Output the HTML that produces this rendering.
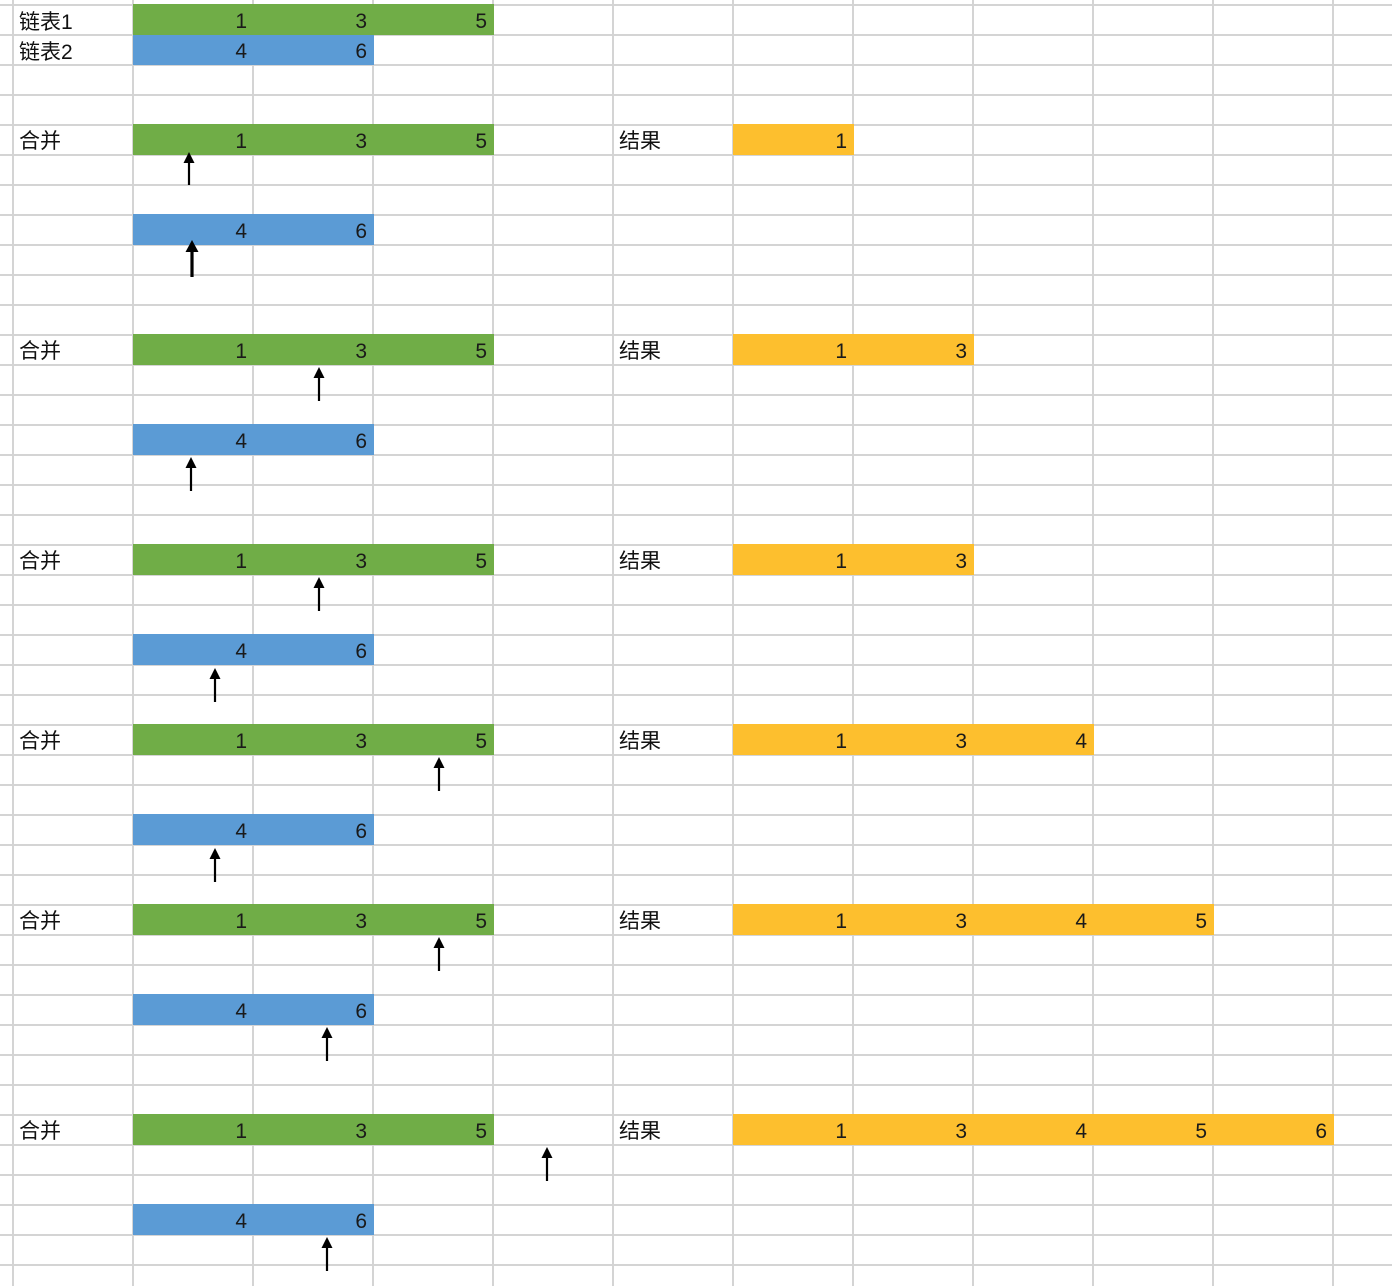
<!DOCTYPE html>
<html>
<head>
<meta charset="utf-8">
<style>
html,body{margin:0;padding:0;background:#fff;}
svg{display:block;}
.n{font-family:"Liberation Sans","Noto Sans CJK SC",sans-serif;font-size:21px;fill:#1a1a1a;text-anchor:end;}
.l{font-family:"Liberation Sans","Noto Sans CJK SC",sans-serif;font-size:21px;fill:#111;}
</style>
</head>
<body>
<svg width="1392" height="1286" viewBox="0 0 1392 1286" xmlns="http://www.w3.org/2000/svg">
<rect x="0" y="0" width="1392" height="1286" fill="#fff"/>
<g stroke="#d4d4d4" stroke-width="2">
<line x1="13" y1="0" x2="13" y2="1286"/>
<line x1="133" y1="0" x2="133" y2="1286"/>
<line x1="253" y1="0" x2="253" y2="1286"/>
<line x1="373" y1="0" x2="373" y2="1286"/>
<line x1="493" y1="0" x2="493" y2="1286"/>
<line x1="613" y1="0" x2="613" y2="1286"/>
<line x1="733" y1="0" x2="733" y2="1286"/>
<line x1="853" y1="0" x2="853" y2="1286"/>
<line x1="973" y1="0" x2="973" y2="1286"/>
<line x1="1093" y1="0" x2="1093" y2="1286"/>
<line x1="1213" y1="0" x2="1213" y2="1286"/>
<line x1="1333" y1="0" x2="1333" y2="1286"/>
<line x1="0" y1="5" x2="1392" y2="5"/>
<line x1="0" y1="35" x2="1392" y2="35"/>
<line x1="0" y1="65" x2="1392" y2="65"/>
<line x1="0" y1="95" x2="1392" y2="95"/>
<line x1="0" y1="125" x2="1392" y2="125"/>
<line x1="0" y1="155" x2="1392" y2="155"/>
<line x1="0" y1="185" x2="1392" y2="185"/>
<line x1="0" y1="215" x2="1392" y2="215"/>
<line x1="0" y1="245" x2="1392" y2="245"/>
<line x1="0" y1="275" x2="1392" y2="275"/>
<line x1="0" y1="305" x2="1392" y2="305"/>
<line x1="0" y1="335" x2="1392" y2="335"/>
<line x1="0" y1="365" x2="1392" y2="365"/>
<line x1="0" y1="395" x2="1392" y2="395"/>
<line x1="0" y1="425" x2="1392" y2="425"/>
<line x1="0" y1="455" x2="1392" y2="455"/>
<line x1="0" y1="485" x2="1392" y2="485"/>
<line x1="0" y1="515" x2="1392" y2="515"/>
<line x1="0" y1="545" x2="1392" y2="545"/>
<line x1="0" y1="575" x2="1392" y2="575"/>
<line x1="0" y1="605" x2="1392" y2="605"/>
<line x1="0" y1="635" x2="1392" y2="635"/>
<line x1="0" y1="665" x2="1392" y2="665"/>
<line x1="0" y1="695" x2="1392" y2="695"/>
<line x1="0" y1="725" x2="1392" y2="725"/>
<line x1="0" y1="755" x2="1392" y2="755"/>
<line x1="0" y1="785" x2="1392" y2="785"/>
<line x1="0" y1="815" x2="1392" y2="815"/>
<line x1="0" y1="845" x2="1392" y2="845"/>
<line x1="0" y1="875" x2="1392" y2="875"/>
<line x1="0" y1="905" x2="1392" y2="905"/>
<line x1="0" y1="935" x2="1392" y2="935"/>
<line x1="0" y1="965" x2="1392" y2="965"/>
<line x1="0" y1="995" x2="1392" y2="995"/>
<line x1="0" y1="1025" x2="1392" y2="1025"/>
<line x1="0" y1="1055" x2="1392" y2="1055"/>
<line x1="0" y1="1085" x2="1392" y2="1085"/>
<line x1="0" y1="1115" x2="1392" y2="1115"/>
<line x1="0" y1="1145" x2="1392" y2="1145"/>
<line x1="0" y1="1175" x2="1392" y2="1175"/>
<line x1="0" y1="1205" x2="1392" y2="1205"/>
<line x1="0" y1="1235" x2="1392" y2="1235"/>
<line x1="0" y1="1265" x2="1392" y2="1265"/>
</g>

<g fill="#70ad47">
<rect x="133" y="4" width="361" height="31"/>
<rect x="133" y="124" width="361" height="31"/>
<rect x="133" y="334" width="361" height="31"/>
<rect x="133" y="544" width="361" height="31"/>
<rect x="133" y="724" width="361" height="31"/>
<rect x="133" y="904" width="361" height="31"/>
<rect x="133" y="1114" width="361" height="31"/>
</g>
<g fill="#5b9bd5">
<rect x="133" y="35" width="241" height="30"/>
<rect x="133" y="214" width="241" height="31"/>
<rect x="133" y="424" width="241" height="31"/>
<rect x="133" y="634" width="241" height="31"/>
<rect x="133" y="814" width="241" height="31"/>
<rect x="133" y="994" width="241" height="31"/>
<rect x="133" y="1204" width="241" height="31"/>
</g>
<g fill="#fdbf2e">
<rect x="733" y="124" width="121" height="31"/>
<rect x="733" y="334" width="241" height="31"/>
<rect x="733" y="544" width="241" height="31"/>
<rect x="733" y="724" width="361" height="31"/>
<rect x="733" y="904" width="481" height="31"/>
<rect x="733" y="1114" width="601" height="31"/>
</g>

<g class="l">
<text x="19" y="29">链表1</text>
<text x="19" y="59">链表2</text>
<text x="19" y="148">合并</text>
<text x="19" y="358">合并</text>
<text x="19" y="568">合并</text>
<text x="19" y="748">合并</text>
<text x="19" y="928">合并</text>
<text x="19" y="1138">合并</text>
<text x="619" y="148">结果</text>
<text x="619" y="358">结果</text>
<text x="619" y="568">结果</text>
<text x="619" y="748">结果</text>
<text x="619" y="928">结果</text>
<text x="619" y="1138">结果</text>
</g>

<g class="n">
<text x="247" y="28">1</text><text x="367" y="28">3</text><text x="487" y="28">5</text>
<text x="247" y="58">4</text><text x="367" y="58">6</text>

<text x="247" y="148">1</text><text x="367" y="148">3</text><text x="487" y="148">5</text>
<text x="247" y="238">4</text><text x="367" y="238">6</text>
<text x="847" y="148">1</text>

<text x="247" y="358">1</text><text x="367" y="358">3</text><text x="487" y="358">5</text>
<text x="247" y="448">4</text><text x="367" y="448">6</text>
<text x="847" y="358">1</text><text x="967" y="358">3</text>

<text x="247" y="568">1</text><text x="367" y="568">3</text><text x="487" y="568">5</text>
<text x="247" y="658">4</text><text x="367" y="658">6</text>
<text x="847" y="568">1</text><text x="967" y="568">3</text>

<text x="247" y="748">1</text><text x="367" y="748">3</text><text x="487" y="748">5</text>
<text x="247" y="838">4</text><text x="367" y="838">6</text>
<text x="847" y="748">1</text><text x="967" y="748">3</text><text x="1087" y="748">4</text>

<text x="247" y="928">1</text><text x="367" y="928">3</text><text x="487" y="928">5</text>
<text x="247" y="1018">4</text><text x="367" y="1018">6</text>
<text x="847" y="928">1</text><text x="967" y="928">3</text><text x="1087" y="928">4</text><text x="1207" y="928">5</text>

<text x="247" y="1138">1</text><text x="367" y="1138">3</text><text x="487" y="1138">5</text>
<text x="247" y="1228">4</text><text x="367" y="1228">6</text>
<text x="847" y="1138">1</text><text x="967" y="1138">3</text><text x="1087" y="1138">4</text><text x="1207" y="1138">5</text><text x="1327" y="1138">6</text>
</g>

<g stroke="#000" stroke-width="2.2">
<line x1="189" y1="160" x2="189" y2="185"/>
<line x1="192" y1="248" x2="192" y2="277" stroke-width="3.2"/>
<line x1="319" y1="375" x2="319" y2="401"/>
<line x1="191" y1="465" x2="191" y2="491"/>
<line x1="319" y1="585" x2="319" y2="611"/>
<line x1="215" y1="676" x2="215" y2="702"/>
<line x1="439" y1="765" x2="439" y2="791"/>
<line x1="215" y1="856" x2="215" y2="882"/>
<line x1="439" y1="945" x2="439" y2="971"/>
<line x1="327" y1="1035" x2="327" y2="1061"/>
<line x1="547" y1="1155" x2="547" y2="1181"/>
<line x1="327" y1="1245" x2="327" y2="1271"/>
</g>
<g fill="#000">
<polygon points="189,152 183.5,163 194.5,163"/>
<polygon points="192,240 185.5,252 198.5,252"/>
<polygon points="319,367 313.5,378 324.5,378"/>
<polygon points="191,457 185.5,468 196.5,468"/>
<polygon points="319,577 313.5,588 324.5,588"/>
<polygon points="215,668 209.5,679 220.5,679"/>
<polygon points="439,757 433.5,768 444.5,768"/>
<polygon points="215,848 209.5,859 220.5,859"/>
<polygon points="439,937 433.5,948 444.5,948"/>
<polygon points="327,1027 321.5,1038 332.5,1038"/>
<polygon points="547,1147 541.5,1158 552.5,1158"/>
<polygon points="327,1237 321.5,1248 332.5,1248"/>
</g>
</svg>
</body>
</html>
